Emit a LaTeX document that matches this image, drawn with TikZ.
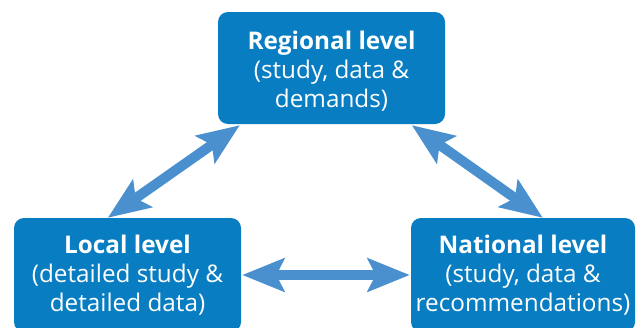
\documentclass[tikz,border=0pt]{standalone}
\usepackage{fontspec}
\setmainfont{Open Sans}
\usetikzlibrary{arrows.meta,calc}
\definecolor{boxblue}{RGB}{8,125,194}
\definecolor{arrowblue}{RGB}{74,144,207}
\begin{document}
\begin{tikzpicture}[x=1pt,y=-1pt,
  lvl/.style={fill=boxblue, rounded corners=10pt, text=white, align=center,
    font=\fontsize{24.3}{29}\selectfont, inner sep=0pt},
  dbl/.style={draw=arrowblue, line width=10pt,
    {Stealth[length=42pt,width=33pt,inset=8pt]}-{Stealth[length=42pt,width=33pt,inset=8pt]}}]
\useasboundingbox (0,0) rectangle (639,327);
\clip (0,0) rectangle (639,327);
\node[lvl, minimum width=227pt, minimum height=112pt] (R) at (331.5,68) {};
\node[text=white, align=center, font=\fontsize{24.3}{29}\selectfont, inner sep=0pt] (Rt) at (331.5,71)
  {\textbf{Regional level}\\(study, data \&\\demands)};
\node[lvl, minimum width=227pt, minimum height=114pt] (L) at (127.5,275)
  {\textbf{Local level}\\(detailed study \&\\detailed data)};
\node[lvl, minimum width=224pt, minimum height=114pt] (N) at (523,275)
  {\textbf{National level}\\(study, data \&\\recommendations)};
\coordinate (a1) at ([xshift=94pt]L.north west);
\coordinate (a2) at ([xshift=22pt,yshift=-1pt]R.south west);
\coordinate (b1) at ([xshift=194pt,yshift=-1pt]R.south west);
\coordinate (b2) at ([xshift=132pt]N.north west);
\draw[dbl] (a1) -- (a2);
\draw[dbl] (b1) -- (b2);
\draw[dbl] ([xshift=1pt]L.east) -- ([xshift=-1pt]N.west);
\end{tikzpicture}
\end{document}
